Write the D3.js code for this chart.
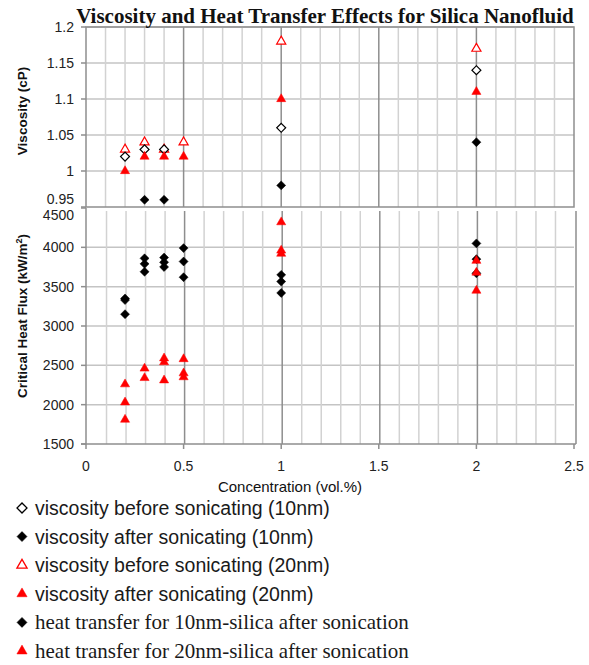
<!DOCTYPE html>
<html>
<head>
<meta charset="utf-8">
<script src="https://cdn.jsdelivr.net/npm/d3@7"></script>
<style>
    body { margin: 0; background: #fff; }
    .tick-label { font-family: 'Liberation Sans', Arial, sans-serif; font-size: 14px; fill: #222; }
    .axis-title { font-family: 'Liberation Sans', Arial, sans-serif; font-size: 13.5px; font-weight: bold; fill: #111; }
</style>
</head>
<body>
<div id="visualization"></div>
<script>
// viscosity panel
const viscBefore10X = [0.2, 0.3, 0.4, 1, 2];
const viscBefore10Y = [1.02, 1.03, 1.03, 1.06, 1.14];
const viscAfter10X = [0.3, 0.4, 1, 2];
const viscAfter10Y = [0.96, 0.96, 0.98, 1.04];
const viscBefore20X = [0.2, 0.3, 0.4, 0.5, 1, 2];
const viscBefore20Y = [1.03, 1.04, 1.03, 1.04, 1.18, 1.17];
const viscAfter20X = [0.2, 0.3, 0.4, 0.5, 1, 2];
const viscAfter20Y = [1.0, 1.02, 1.02, 1.02, 1.1, 1.11];

// heat flux panel
const heat10X = [0.2, 0.2, 0.2, 0.3, 0.3, 0.3, 0.4, 0.4, 0.4, 0.5, 0.5, 0.5, 1, 1, 1, 2, 2, 2];
const heat10Y = [3150, 3330, 3350, 3690, 3790, 3860, 3750, 3810, 3870, 3620, 3820, 3990, 3420, 3565, 3650, 3670, 3850, 4050];
const heat20X = [0.2, 0.2, 0.2, 0.3, 0.3, 0.4, 0.4, 0.4, 0.5, 0.5, 0.5, 1, 1, 1, 2, 2, 2];
const heat20Y = [1810, 2030, 2260, 2340, 2460, 2310, 2540, 2590, 2350, 2400, 2580, 3920, 3960, 4320, 3450, 3680, 3830];

const xTicks = [0, 0.5, 1, 1.5, 2, 2.5];
const viscTicks = [0.95, 1, 1.05, 1.1, 1.15, 1.2];
const heatTicks = [1500, 2000, 2500, 3000, 3500, 4000, 4500];

const legendItems = [
    { label: 'viscosity before sonicating (10nm)', shape: 'diamond', filled: false, color: '#000', serif: false },
    { label: 'viscosity after sonicating (10nm)', shape: 'diamond', filled: true, color: '#000', serif: false },
    { label: 'viscosity before sonicating (20nm)', shape: 'triangle', filled: false, color: '#ff0000', serif: false },
    { label: 'viscosity after sonicating (20nm)', shape: 'triangle', filled: true, color: '#ff0000', serif: false },
    { label: 'heat transfer for 10nm-silica after sonication', shape: 'diamond', filled: true, color: '#000', serif: true },
    { label: 'heat transfer for 20nm-silica after sonication', shape: 'triangle', filled: true, color: '#ff0000', serif: true }
];

document.addEventListener('DOMContentLoaded', function() {
    const width = 589, height = 665;
    const left = 86, right = 574;
    const serif = "'Liberation Serif', 'Times New Roman', serif";
    const sans = "'Liberation Sans', Arial, sans-serif";

    const svg = d3.select('#visualization')
        .append('svg')
        .attr('width', width)
        .attr('height', height);

    const xScale = d3.scaleLinear().domain([0, 2.5]).range([left, right]);
    const yVisc = d3.scaleLinear().domain([0.95, 1.2]).range([207, 27]);
    const yHeat = d3.scaleLinear().domain([1500, 4500]).range([444, 208]);

    const minorX = d3.range(1, 25).map(i => i / 10).filter(v => Math.abs(v * 2 - Math.round(v * 2)) > 1e-6);
    const majorX = [0.5, 1, 1.5, 2];

    function symbolPath(shape, size) {
        if (shape === 'diamond') return d3.symbol().type(d3.symbolSquare).size(size || 40)();
        return d3.symbol().type(d3.symbolTriangle).size(size ? size * 0.9 : 36)();
    }

    function drawMarkers(xs, ys, yScale, shape, filled, color) {
        svg.append('g')
            .selectAll('path')
            .data(xs.map((x, i) => ({ x: x, y: ys[i] })))
            .enter()
            .append('path')
            .attr('d', symbolPath(shape))
            .attr('transform', d => `translate(${xScale(d.x)},${yScale(d.y)})` + (shape === 'diamond' ? ' rotate(45)' : ''))
            .attr('fill', filled ? color : '#fff')
            .attr('stroke', color)
            .attr('stroke-width', filled ? 0.5 : 1.2);
    }

    // ---- top panel grid ----
    const gTop = svg.append('g');
    gTop.selectAll('.hgrid')
        .data(viscTicks.slice(1))
        .enter().append('line')
        .attr('x1', left).attr('x2', right)
        .attr('y1', d => yVisc(d)).attr('y2', d => yVisc(d))
        .attr('stroke', '#c4c4c4').attr('stroke-width', 1.5);
    gTop.selectAll('.vminor')
        .data(minorX)
        .enter().append('line')
        .attr('x1', d => xScale(d)).attr('x2', d => xScale(d))
        .attr('y1', yVisc(1.2)).attr('y2', yVisc(0.95))
        .attr('stroke', '#d2d2d2').attr('stroke-width', 1.5);
    gTop.selectAll('.vmajor')
        .data(majorX)
        .enter().append('line')
        .attr('x1', d => xScale(d)).attr('x2', d => xScale(d))
        .attr('y1', yVisc(1.2)).attr('y2', yVisc(0.95))
        .attr('stroke', '#8e8e8e').attr('stroke-width', 1.5);
    gTop.append('rect')
        .attr('x', left).attr('y', yVisc(1.2))
        .attr('width', right - left).attr('height', yVisc(0.95) - yVisc(1.2))
        .attr('fill', 'none').attr('stroke', '#8e8e8e').attr('stroke-width', 1.5);
    gTop.selectAll('.ytick')
        .data(viscTicks)
        .enter().append('line')
        .attr('x1', left - 5).attr('x2', left)
        .attr('y1', d => yVisc(d)).attr('y2', d => yVisc(d))
        .attr('stroke', '#8e8e8e').attr('stroke-width', 1.5);
    gTop.selectAll('.ylab')
        .data(viscTicks)
        .enter().append('text')
        .attr('class', 'tick-label')
        .attr('text-anchor', 'end')
        .attr('x', left - 12)
        .attr('y', d => yVisc(d) + 5 - (d === 0.95 ? 8 : 0))
        .text(d => d);

    // ---- bottom panel grid ----
    const gBot = svg.append('g');
    gBot.selectAll('.hgrid')
        .data(heatTicks.slice(1, -1))
        .enter().append('line')
        .attr('x1', left).attr('x2', right)
        .attr('y1', d => yHeat(d)).attr('y2', d => yHeat(d))
        .attr('stroke', '#c4c4c4').attr('stroke-width', 1.5);
    gBot.selectAll('.vminor')
        .data(minorX)
        .enter().append('line')
        .attr('x1', d => xScale(d) + 1).attr('x2', d => xScale(d) + 1)
        .attr('y1', 211).attr('y2', yHeat(1500))
        .attr('stroke', '#d2d2d2').attr('stroke-width', 1.5);
    gBot.selectAll('.vmajor')
        .data(majorX)
        .enter().append('line')
        .attr('x1', d => xScale(d) + 1).attr('x2', d => xScale(d) + 1)
        .attr('y1', 211).attr('y2', yHeat(1500))
        .attr('stroke', '#8e8e8e').attr('stroke-width', 1.5);
    gBot.append('line')
        .attr('x1', right + 2).attr('x2', right + 2)
        .attr('y1', 211).attr('y2', yHeat(1500))
        .attr('stroke', '#8e8e8e').attr('stroke-width', 1.5);
    gBot.append('line')
        .attr('x1', left).attr('x2', left)
        .attr('y1', 208).attr('y2', yHeat(1500))
        .attr('stroke', '#8e8e8e').attr('stroke-width', 1.5);
    gBot.append('line')
        .attr('x1', left - 5).attr('x2', right + 2)
        .attr('y1', yHeat(1500)).attr('y2', yHeat(1500))
        .attr('stroke', '#8e8e8e').attr('stroke-width', 1.5);
    gBot.selectAll('.ytick')
        .data(heatTicks)
        .enter().append('line')
        .attr('x1', left - 5).attr('x2', left)
        .attr('y1', d => yHeat(d)).attr('y2', d => yHeat(d))
        .attr('stroke', '#8e8e8e').attr('stroke-width', 1.5);
    gBot.selectAll('.xtick')
        .data(xTicks)
        .enter().append('line')
        .attr('x1', d => xScale(d)).attr('x2', d => xScale(d))
        .attr('y1', yHeat(1500)).attr('y2', yHeat(1500) + 5)
        .attr('stroke', '#8e8e8e').attr('stroke-width', 1.5);
    gBot.selectAll('.ylab')
        .data(heatTicks)
        .enter().append('text')
        .attr('class', 'tick-label')
        .attr('text-anchor', 'end')
        .attr('x', left - 12)
        .attr('y', d => yHeat(d) + 5 + (d === 4500 ? 7 : 0))
        .text(d => d);
    gBot.selectAll('.xlab')
        .data(xTicks)
        .enter().append('text')
        .attr('class', 'tick-label')
        .attr('text-anchor', 'middle')
        .attr('x', d => xScale(d))
        .attr('y', 471)
        .text(d => d);

    // titles
    svg.append('text')
        .attr('x', 325).attr('y', 23)
        .attr('text-anchor', 'middle')
        .style('font-family', serif)
        .style('font-size', '21px')
        .style('font-weight', 'bold')
        .style('fill', '#111')
        .text('Viscosity and Heat Transfer Effects for Silica Nanofluid');

    svg.append('text')
        .attr('class', 'axis-title')
        .attr('text-anchor', 'middle')
        .attr('transform', 'translate(27,111) rotate(-90)')
        .text('Viscosity (cP)');

    const heatTitle = svg.append('text')
        .attr('class', 'axis-title')
        .attr('text-anchor', 'middle')
        .attr('transform', 'translate(27,316) rotate(-90)');
    heatTitle.append('tspan').text('Critical Heat Flux (kW/m');
    heatTitle.append('tspan').attr('dy', -5).style('font-size', '9px').text('2');
    heatTitle.append('tspan').attr('dy', 5).text(')');

    svg.append('text')
        .attr('text-anchor', 'middle')
        .attr('x', 290).attr('y', 492)
        .style('font-family', sans)
        .style('font-size', '15px')
        .style('fill', '#111')
        .text('Concentration (vol.%)');

    // markers
    drawMarkers(viscBefore20X, viscBefore20Y, yVisc, 'triangle', false, '#ff0000');
    drawMarkers(viscBefore10X, viscBefore10Y, yVisc, 'diamond', false, '#000');
    drawMarkers(viscAfter20X, viscAfter20Y, yVisc, 'triangle', true, '#ff0000');
    drawMarkers(viscAfter10X, viscAfter10Y, yVisc, 'diamond', true, '#000');
    drawMarkers(heat10X, heat10Y, yHeat, 'diamond', true, '#000');
    drawMarkers(heat20X, heat20Y, yHeat, 'triangle', true, '#ff0000');

    // legend
    const legend = svg.append('g');
    const rows = legend.selectAll('g')
        .data(legendItems)
        .enter().append('g')
        .attr('transform', (d, i) => `translate(0,${508 + i * 28.6})`);
    rows.append('path')
        .attr('d', d => symbolPath(d.shape, 50))
        .attr('transform', d => 'translate(22,0)' + (d.shape === 'diamond' ? ' rotate(45)' : ''))
        .attr('fill', d => d.filled ? d.color : '#fff')
        .attr('stroke', d => d.color)
        .attr('stroke-width', d => d.filled ? 0.5 : 1.3);
    rows.append('text')
        .attr('x', 35)
        .attr('y', 7)
        .style('font-family', d => d.serif ? serif : sans)
        .style('font-size', d => d.serif ? '21px' : '19.5px')
        .style('fill', '#1a1a1a')
        .text(d => d.label);
});
</script>
</body>
</html>
